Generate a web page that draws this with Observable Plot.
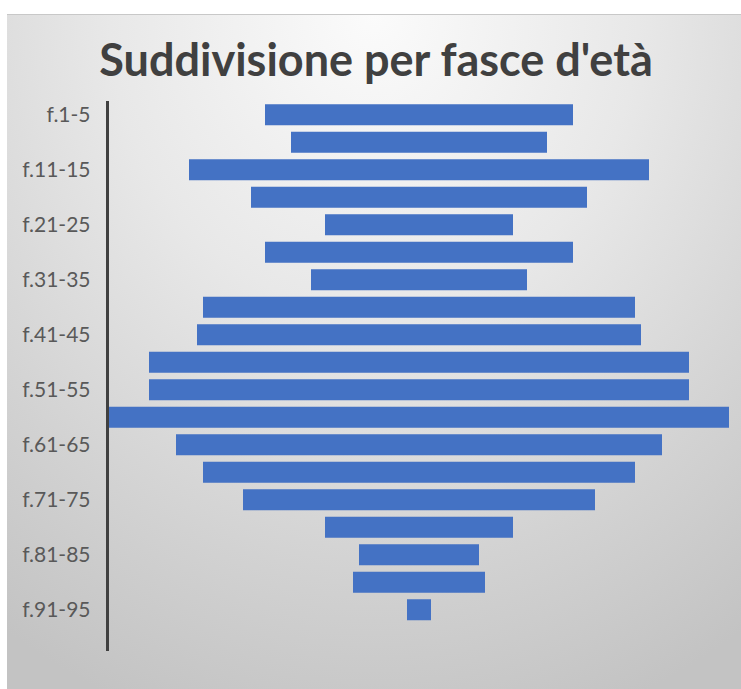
<!DOCTYPE html>
<html>
<head>
<meta charset="utf-8">
<script src="https://cdn.jsdelivr.net/npm/d3@7"></script>
<script src="https://cdn.jsdelivr.net/npm/@observablehq/plot@0.6"></script>
<style>
  html, body { margin: 0; padding: 0; background: #ffffff; }
  #box {
    position: absolute; left: 7px; top: 14px; width: 734px; height: 675px;
    background: radial-gradient(ellipse 90% 110% at 50% 0%, #fbfbfb 0%, #e8e8e8 40%, #d2d2d2 75%, #c3c3c3 100%);
    box-shadow: inset 0 1px 0 #c8c8c8;
    overflow: hidden;
  }
  #title {
    position: absolute; left: 2px; top: 23px; width: 734px; text-align: center;
    font-family: Lato, "Open Sans", sans-serif; font-weight: bold; font-size: 45px;
    line-height: 45px; color: #404040; white-space: nowrap;
  }
  #chart { position: absolute; left: 0; top: 0; }
</style>
</head>
<body>
<div id="box">
  <div id="title">Suddivisione per fasce d'età</div>
  <div id="chart"></div>
</div>
<script>
const categories = ["f.1-5","f.6-10","f.11-15","f.16-20","f.21-25","f.26-30","f.31-35","f.36-40","f.41-45","f.46-50","f.51-55","f.56-60","f.61-65","f.66-70","f.71-75","f.76-80","f.81-85","f.86-90","f.91-95","f.96-100"];
const values = [77, 64, 115, 84, 47, 77, 54, 108, 111, 135, 135, 155, 121.5, 108, 88, 47, 30, 33, 6, 0];
const shownTicks = ["f.1-5","f.11-15","f.21-25","f.31-35","f.41-45","f.51-55","f.61-65","f.71-75","f.81-85","f.91-95"];

const data = categories.map((c, i) => ({cat: c, v: values[i]}));
const D = 156;

const plot = Plot.plot({
  width: 734,
  height: 675,
  marginTop: 87,
  marginBottom: 38,
  marginLeft: 100,
  marginRight: 10,
  style: {fontFamily: "Lato, 'Open Sans', sans-serif", fontSize: "21px", background: "transparent", color: "#595959", overflow: "visible"},
  x: {domain: [-D, D], axis: null},
  y: {domain: categories, padding: 0, round: false, label: null},
  marks: [
    Plot.barX(data, {x1: d => -d.v, x2: d => d.v, y: "cat", fill: "#4472C4", insetTop: 3.25, insetBottom: 3.25}),
    Plot.ruleX([-D], {stroke: "#404040", strokeWidth: 3}),
    Plot.axisY({ticks: shownTicks, tickSize: 0, tickPadding: 17, label: null, fill: "#595959", fontSize: 21})
  ]
});
document.getElementById("chart").appendChild(plot);
</script>
</body>
</html>
